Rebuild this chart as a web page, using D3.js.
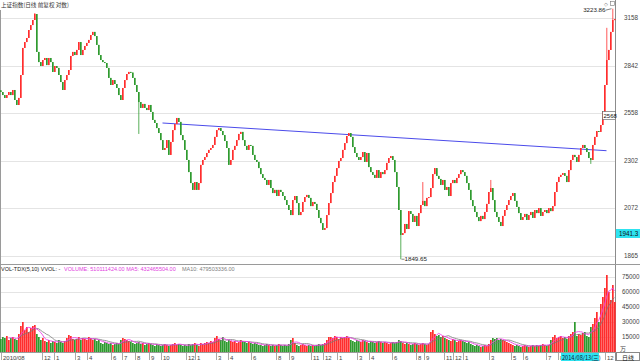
<!DOCTYPE html>
<html><head><meta charset="utf-8">
<script src="https://cdn.jsdelivr.net/npm/d3@7"></script>
<style>html,body{margin:0;padding:0;background:#fff;overflow:hidden}</style>
</head><body>
<svg id="c" width="640" height="361"></svg>
<script>
// ---------- DATA ----------
const firstOpen = 2690;
const closes = [
2680,2662,2645,2662,2680,2662,2692,2633,2604,2645,2783,2955,2994,3021,3075,3109,3144,3186,2929,2864,
2839,2877,2890,2845,2890,2864,2802,2839,2827,2783,2740,2692,2752,2783,2814,2903,2929,2909,2942,2994,
2909,2942,2968,2988,3008,3041,3062,3034,2975,2909,2877,2864,2858,2827,2765,2722,2752,2728,2704,2662,
2633,2704,2752,2789,2802,2798,2765,2722,2680,2621,2587,2610,2587,2575,2604,2564,2519,2502,2474,2447,
2409,2357,2367,2409,2331,2399,2463,2496,2530,2508,2436,2409,2357,2305,2244,2190,2157,2195,2157,2190,
2280,2305,2320,2341,2357,2367,2383,2426,2463,2474,2458,2436,2404,2367,2280,2305,2357,2378,2409,2442,
2453,2409,2378,2357,2383,2378,2331,2305,2295,2264,2234,2215,2205,2181,2205,2166,2142,2157,2128,2157,
2147,2128,2109,2086,2063,2040,2109,2128,2095,2040,2054,2100,2123,2133,2119,2081,2100,2091,2063,2027,
2004,1974,1982,2040,2095,2142,2195,2225,2264,2300,2315,2357,2393,2431,2447,2426,2372,2341,2320,2305,
2320,2346,2295,2341,2269,2244,2230,2215,2254,2215,2244,2234,2254,2290,2315,2325,2305,2244,2171,2063,
1952,1960,2000,1978,2058,2045,2009,2036,1991,2049,2086,2105,2081,2119,2123,2166,2234,2264,2225,2210,
2181,2205,2157,2171,2128,2190,2205,2190,2215,2234,2254,2244,2225,2190,2157,2109,2081,2054,2031,2013,
2036,2022,2054,2091,2147,2166,2109,2054,2031,2009,1991,2036,2063,2086,2109,2128,2142,2105,2077,2049,
2018,2031,2045,2018,2040,2054,2027,2063,2049,2072,2036,2054,2063,2049,2072,2058,2081,2147,2195,2220,
2230,2239,2225,2195,2254,2305,2331,2320,2295,2331,2367,2383,2367,2346,2315,2305,2383,2426,2458,2453,
2491,2564,2722,2877,2942,3062,3144,3150];
const volumes = [ // unit: 万
13000,15000,14000,16000,12000,14000,15000,13000,12000,18000,26000,30000,22000,25000,20000,24000,26000,27000,18000,15000,
12000,14000,11000,10000,12000,9000,11000,10000,9000,12000,10000,9000,11000,14000,17000,16000,13000,12000,13000,15000,
12000,14000,13000,12000,15000,14000,12000,13000,11000,12000,9000,8000,10000,9000,8000,9000,7000,8000,9000,8000,
12000,14000,13000,12000,11000,10000,9000,8000,9000,10000,8000,9000,7000,8000,9000,8000,7000,6000,8000,7000,
6000,7000,8000,7000,6000,7000,8000,9000,7000,8000,7000,6000,7000,6000,8000,7000,8000,9000,7000,6000,
9000,8000,9000,10000,9000,11000,10000,14000,16000,13000,12000,15000,11000,10000,12000,11000,10000,11000,9000,10000,
12000,11000,10000,9000,10000,9000,8000,9000,8000,7000,7000,6000,7000,8000,7000,6000,7000,6000,7000,8000,
7000,6000,7000,6000,8000,12000,14000,9000,7000,6000,7000,8000,7000,6000,7000,6000,7000,6000,7000,8000,
7000,8000,9000,12000,15000,15000,14000,16000,15000,13000,15000,14000,15000,16000,14000,12000,11000,10000,12000,11000,
10000,12000,11000,10000,9000,11000,10000,9000,10000,11000,10000,9000,10000,9000,8000,9000,10000,9000,10000,12000,
11000,9000,8000,9000,8000,7000,8000,9000,8000,7000,8000,9000,8000,7000,8000,20000,22000,18000,16000,17000,
15000,16000,14000,13000,12000,11000,13000,12000,10000,11000,12000,11000,10000,9000,10000,8000,7000,6000,7000,6000,
5000,6000,7000,6000,8000,12000,14000,13000,14000,12000,13000,12000,11000,10000,9000,8000,7000,6000,7000,6000,
5000,6000,7000,6000,5000,6000,7000,6000,7000,6000,7000,8000,7000,6000,7000,12000,15000,17000,14000,15000,
16000,14000,15000,13000,16000,18000,20000,30000,16000,18000,17000,19000,20000,16000,15000,25000,28000,34000,40000,30000,
48000,55000,64000,77000,60000,52000,67000,50000];
const extraHigh = [{i:17,v:3193},{i:211,v:2195},{i:245,v:2205},{i:303,v:3090},{i:306,v:3223.86}];
const extraLow  = [{i:69,v:2442},{i:200,v:1849.65},{i:295,v:2285}];
const priceTicks = [3158,2842,2558,2302,2072,1865];
const volTicks = [75000,60000,45000,30000,15000];
const dateTickIdx =    [0,20.5,26.5,37,43,55,60.5,67,74,80,92.5,97,107.5,113.5,125,137.5,144,155,161,168,178,184,195.5,207.5,211.5,221.5,226,231,244,255,261,272.5,278.5,302];
const dateTickLabels = ["2010/08","12","1","3","4","6","7","8","9","10","12","1","3","4","6","8","9","11","12","1","3","4","6","8","9","11","12","1","3","5","6","7","8","12"];
const trendIdx = [81,303];
const trendVal = [2502,2353];

// ---------- DRAW ----------
const svg = d3.select("#c");
const N = Math.min(closes.length, volumes.length);
const opens = closes.map((c,i)=> i===0 ? firstOpen : closes[i-1]);
const highs = closes.map((c,i)=> Math.max(c, opens[i]));
const lows  = closes.map((c,i)=> Math.min(c, opens[i]));
extraHigh.forEach(d=>{ highs[d.i] = Math.max(highs[d.i], d.v); });
extraLow.forEach(d=>{ lows[d.i] = Math.min(lows[d.i], d.v); });

const UP = "#ff2d2d", DN = "#2e9a2e";
const x = d3.scaleLinear().domain([0, N-1]).range([0.5, 614.5]);
const y = d3.scaleLog().domain([1865, 3158]).range([255.5, 18]);
const yv = d3.scaleLinear().domain([0, 75000]).range([352, 277]);
const numFont = "'Liberation Sans', Arial, sans-serif";

// gridlines
svg.append("g").selectAll("line").data(priceTicks).join("line")
  .attr("x1",0).attr("x2",615).attr("y1",d=>Math.round(y(d))+0.5).attr("y2",d=>Math.round(y(d))+0.5)
  .attr("stroke","#e4e4e4").attr("stroke-width",1);
svg.append("g").selectAll("line").data(volTicks).join("line")
  .attr("x1",0).attr("x2",615).attr("y1",d=>Math.round(yv(d))+0.5).attr("y2",d=>Math.round(yv(d))+0.5)
  .attr("stroke","#e4e4e4").attr("stroke-width",1);

// frames
svg.append("line").attr("x1",615.5).attr("x2",615.5).attr("y1",0).attr("y2",361).attr("stroke","#8c8c8c");
svg.append("line").attr("x1",0.5).attr("x2",0.5).attr("y1",10).attr("y2",353).attr("stroke","#9a9a9a");
svg.append("line").attr("x1",0).attr("x2",640).attr("y1",264.5).attr("y2",264.5).attr("stroke","#9a9a9a");
svg.append("line").attr("x1",0).attr("x2",640).attr("y1",352.5).attr("y2",352.5).attr("stroke","#9a9a9a");

// trend line
svg.append("line")
  .attr("x1",x(trendIdx[0])).attr("y1",y(trendVal[0]))
  .attr("x2",x(trendIdx[1])).attr("y2",y(trendVal[1]))
  .attr("stroke","#4b4bea").attr("stroke-width",1);

// candles
const idx = d3.range(N);
const cg = svg.append("g");
cg.selectAll("line").data(idx).join("line")
  .attr("x1",i=>x(i)+0.3).attr("x2",i=>x(i)+0.3)
  .attr("y1",i=>y(highs[i])).attr("y2",i=>y(lows[i]))
  .attr("stroke",i=>closes[i]>=opens[i]?UP:DN).attr("stroke-width",0.8);
cg.selectAll("rect").data(idx).join("rect")
  .attr("x",i=>x(i)-0.5).attr("width",1.6)
  .attr("y",i=>y(Math.max(opens[i],closes[i])))
  .attr("height",i=>Math.max(1, Math.abs(y(opens[i])-y(closes[i]))))
  .attr("fill",i=>closes[i]>=opens[i]?UP:DN);

// volume bars
svg.append("g").selectAll("rect").data(idx).join("rect")
  .attr("x",i=>x(i)-0.5).attr("width",1.7)
  .attr("y",i=>yv(volumes[i])).attr("height",i=>yv(0)-yv(volumes[i]))
  .attr("fill",i=>closes[i]>=opens[i]?UP:DN);

// MA lines
function ma(n){ return idx.map(i=> i<n-1?null: d3.mean(volumes.slice(i-n+1,i+1))); }
const line = d3.line().defined(d=>d.v!=null).x(d=>x(d.i)).y(d=>yv(d.v));
svg.append("path").datum(ma(10).map((v,i)=>({i,v}))).attr("d",line)
  .attr("fill","none").attr("stroke","#7a7a7a").attr("stroke-width",0.8);
svg.append("path").datum(ma(5).map((v,i)=>({i,v}))).attr("d",line)
  .attr("fill","none").attr("stroke","#ee3ee6").attr("stroke-width",0.9);

// right axis labels
svg.append("g").selectAll("text").data(priceTicks).join("text")
  .attr("x",624).attr("y",d=>y(d)+2.2).text(d=>d)
  .attr("font-family",numFont).attr("font-size",6.3).attr("fill","#444");
svg.append("g").selectAll("text").data(volTicks).join("text")
  .attr("x",622).attr("y",d=>yv(d)+2.2).text(d=>d)
  .attr("font-family",numFont).attr("font-size",6.3).attr("fill","#444");
svg.append("text").attr("x",620).attr("y",351).text("万")
  .attr("font-family","'Noto Sans CJK SC'").attr("font-size",6).attr("fill","#444");

// date axis
const dg = svg.append("g");
dateTickIdx.forEach((t,k)=>{
  const xx = Math.round(x(t))+0.5;
  dg.append("line").attr("x1",xx).attr("x2",xx).attr("y1",353).attr("y2",360).attr("stroke","#aaa");
  dg.append("text").attr("x",xx+1.5).attr("y",359.5).text(dateTickLabels[k])
    .attr("font-family",numFont).attr("font-size",6).attr("fill","#444");
});
// cursor date box
svg.append("rect").attr("x",561).attr("y",353).attr("width",38).attr("height",8).attr("fill","#2ee3f0");
svg.append("text").attr("x",562).attr("y",359.5).text("2014/08/13(三)")
  .attr("font-family","'Noto Sans CJK SC', sans-serif").attr("font-size",5.6).attr("fill","#113");
svg.append("rect").attr("x",616.5).attr("y",352.5).attr("width",23).attr("height",8).attr("fill","#fff").attr("stroke","#888");
svg.append("text").attr("x",622).attr("y",359.5).text("日线")
  .attr("font-family","'Noto Sans CJK SC'").attr("font-size",6).attr("fill","#222");

// price annotations
svg.append("rect").attr("x",616).attr("y",229).attr("width",24).attr("height",9).attr("fill","#2ee3f0");
svg.append("text").attr("x",619).attr("y",236).text("1941.3")
  .attr("font-family",numFont).attr("font-size",6.3).attr("fill","#111");
svg.append("rect").attr("x",602.5).attr("y",111.5).attr("width",13).attr("height",8).attr("fill","#fff").attr("stroke","#555").attr("stroke-width",0.6);
svg.append("text").attr("x",603.5).attr("y",118).text("2568")
  .attr("font-family",numFont).attr("font-size",6).attr("fill","#111");

const hiI = 306, loI = 200;
svg.append("text").attr("x",x(hiI)-7).attr("y",y(3223.86)+3.5).attr("text-anchor","end").text("3223.86")
  .attr("font-family",numFont).attr("font-size",6.2).attr("fill","#222");
svg.append("line").attr("x1",x(hiI)-7).attr("x2",x(hiI)-1).attr("y1",y(3223.86)+1.5).attr("y2",y(3223.86))
  .attr("stroke","#333").attr("stroke-width",0.6);
svg.append("text").attr("x",x(loI)+4).attr("y",y(1849.65)+2.2).text("1849.65")
  .attr("font-family",numFont).attr("font-size",6.2).attr("fill","#222");
svg.append("line").attr("x1",x(loI)+1).attr("x2",x(loI)+4).attr("y1",y(1849.65)).attr("y2",y(1849.65))
  .attr("stroke","#333").attr("stroke-width",0.6);
svg.append("text").attr("x",604).attr("y",6).text("◇").attr("font-size",5).attr("fill","#777");
svg.append("rect").attr("x",610.5).attr("y",1.5).attr("width",4).attr("height",4).attr("fill","none").attr("stroke","#777").attr("stroke-width",0.6);

// titles
svg.append("text").attr("x",1).attr("y",7).text("上证指数(日线 前复权 对数)")
  .attr("font-family","'Noto Sans CJK SC', sans-serif").attr("font-size",5.6).attr("fill","#333");
svg.append("text").attr("x",1).attr("y",271).text("VOL-TDX(5,10) VVOL: -")
  .attr("font-family",numFont).attr("font-size",5.5).attr("fill","#222");
svg.append("text").attr("x",64).attr("y",271).text("VOLUME: 510111424.00  MA5: 432465504.00")
  .attr("font-family",numFont).attr("font-size",5.5).attr("fill","#e23ee0");
svg.append("text").attr("x",182).attr("y",271).text("MA10: 479503336.00")
  .attr("font-family",numFont).attr("font-size",5.5).attr("fill","#808080");
</script>
</body></html>
